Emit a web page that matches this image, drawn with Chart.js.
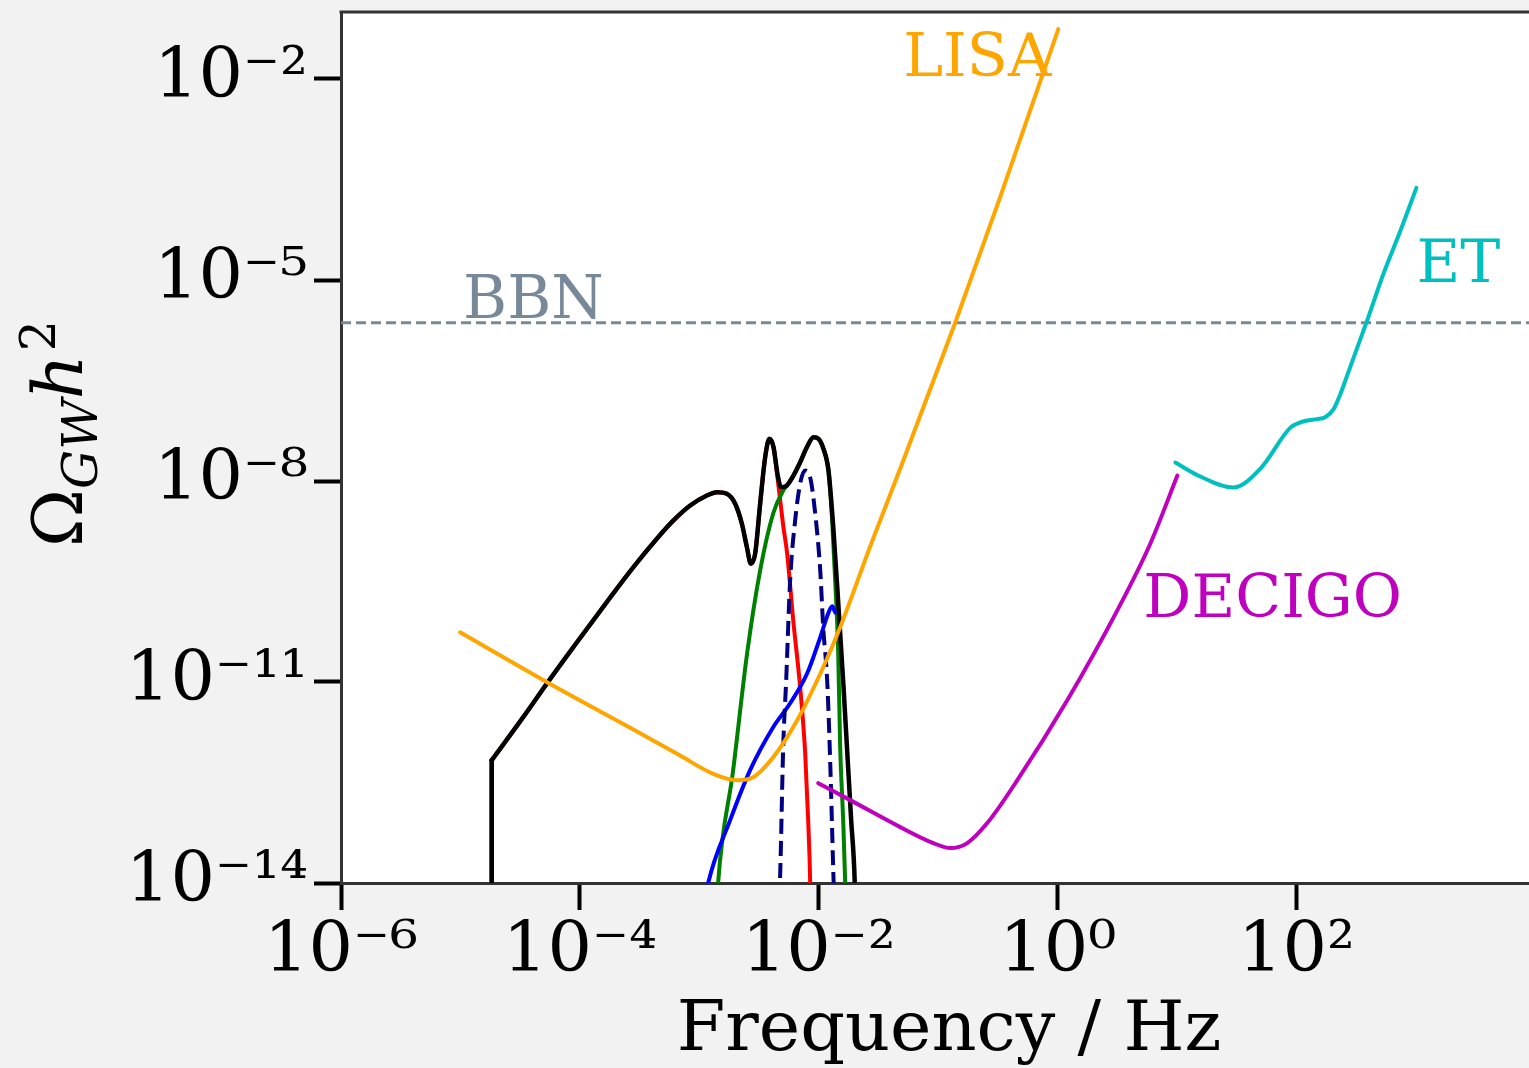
<!DOCTYPE html>
<html><head><meta charset="utf-8">
<script src="https://cdn.jsdelivr.net/npm/chart.js@4.4.1/dist/chart.umd.min.js"></script>
<style>
html,body{margin:0;padding:0;background:#f2f2f2;overflow:hidden;width:1529px;height:1068px;}
#wrap{position:absolute;left:0;top:0;width:1558px;height:1080px;}
canvas{display:block;}
</style></head><body>
<div id="wrap"><canvas id="c" width="1558" height="1080"></canvas></div>
<script>
// ---- data (log10 of frequency [Hz] and log10 of Omega_GW h^2) ----
const xTickExps = [-6, -4, -2, 0, 2];
const yTickExps = [-14, -11, -8, -5, -2];

// vertical cut-off edge of the total spectrum
const edgeLogF = [-4.738, -4.738];
const edgeLogO = [-15, -12.167];

const totalLogF = [-4.738,-4.473,-4.277,-4.054,-3.775,-3.552,-3.356,-3.217,-3.077,-2.937,-2.853,-2.770,-2.700,-2.644,-2.602,-2.569,-2.533,-2.491,-2.449,-2.413,-2.379,-2.346,-2.317,-2.267,-2.212,-2.156,-2.100,-2.044,-2.002,-1.961,-1.919,-1.877,-1.835,-1.793,-1.758,-1.729,-1.699,-1.687];
const totalLogO = [-12.167,-11.521,-11.024,-10.478,-9.807,-9.285,-8.862,-8.589,-8.366,-8.217,-8.167,-8.191,-8.340,-8.638,-8.987,-9.235,-9.086,-8.340,-7.645,-7.371,-7.496,-7.893,-8.093,-8.067,-7.918,-7.720,-7.496,-7.347,-7.371,-7.520,-7.844,-8.738,-9.882,-11.074,-12.167,-13.062,-14.0,-15.0];

const redLogF = [-4.738,-4.473,-4.277,-4.054,-3.775,-3.552,-3.356,-3.217,-3.077,-2.937,-2.853,-2.770,-2.700,-2.644,-2.602,-2.569,-2.533,-2.491,-2.449,-2.413,-2.379,-2.348,-2.323,-2.298,-2.265,-2.214,-2.156,-2.114,-2.089,-2.072,-2.064];
const redLogO = [-12.167,-11.521,-11.024,-10.478,-9.807,-9.285,-8.862,-8.589,-8.366,-8.217,-8.167,-8.191,-8.340,-8.638,-8.987,-9.235,-9.086,-8.340,-7.645,-7.371,-7.496,-7.918,-8.291,-8.664,-9.081,-10.080,-11.079,-12.063,-13.062,-14.0,-15.0];

const greenLogF = [-2.859,-2.843,-2.717,-2.600,-2.491,-2.382,-2.298,-2.267,-2.212,-2.156,-2.100,-2.044,-2.002,-1.961,-1.919,-1.888,-1.863,-1.838,-1.821,-1.796,-1.779,-1.771];
const greenLogO = [-14.55,-14.0,-12.316,-10.572,-9.335,-8.485,-8.142,-8.067,-7.918,-7.720,-7.496,-7.347,-7.371,-7.520,-7.844,-8.589,-9.483,-10.527,-11.973,-13.062,-14.0,-14.70];

const navyLogF = [-2.332,-2.323,-2.298,-2.273,-2.240,-2.198,-2.156,-2.114,-2.072,-2.030,-1.988,-1.963,-1.930,-1.905,-1.879,-1.871];
const navyLogO = [-14.25,-13.852,-11.973,-10.974,-9.483,-8.589,-8.038,-7.844,-7.948,-8.485,-9.335,-10.184,-10.974,-12.167,-13.807,-14.25];

const blueLogF = [-2.951,-2.926,-2.742,-2.575,-2.382,-2.240,-2.097,-1.988,-1.921,-1.888,-1.863];
const blueLogO = [-14.25,-14.0,-13.062,-12.316,-11.675,-11.317,-10.870,-10.333,-9.976,-9.871,-9.961];

const lisaLogF = [-5.003,-4.275,-3.496,-3.161,-2.884,-2.683,-2.549,-2.382,-2.181,-1.963,-1.821,-1.570,-1.318,-0.858,-0.481,0.005];
const lisaLogO = [-10.259,-11.004,-11.765,-12.098,-12.370,-12.465,-12.420,-12.122,-11.571,-10.780,-10.184,-8.977,-7.814,-5.637,-3.759,-1.255];

const decigoLogF = [-2.005,-1.737,-1.318,-1.042,-0.899,-0.757,-0.590,-0.338,0.080,0.499,0.776,1.002];
const decigoLogO = [-12.510,-12.763,-13.166,-13.404,-13.479,-13.404,-13.106,-12.465,-11.273,-9.931,-8.932,-7.918];

const etLogF = [0.985,1.194,1.471,1.697,1.948,2.015,2.088,2.170,2.239,2.311,2.367,2.423,2.478,2.590,2.727,2.869,3.003];
const etLogO = [-7.725,-7.933,-8.097,-7.814,-7.203,-7.136,-7.098,-7.076,-7.049,-6.924,-6.700,-6.428,-6.155,-5.608,-4.907,-4.266,-3.625];

const bbnLogF = [-6, 4.18];
const bbnLogO = [-5.637, -5.637];

const labelTexts = ['LISA', 'BBN', 'ET', 'DECIGO'];
const labelLogF = [-1.293, -4.978, 3.003, 0.717];
const labelLogO = [-1.955, -5.563, -5.026, -10.035];
const labelColors = ['#FFA500', '#778899', '#00BFBF', '#BF00BF'];

// ---- helpers ----
const SERIF = '"DejaVu Serif", "Liberation Serif", serif';
const sup = {'-':'\u207B','0':'\u2070','1':'\u00B9','2':'\u00B2','3':'\u00B3','4':'\u2074','5':'\u2075','6':'\u2076','7':'\u2077','8':'\u2078','9':'\u2079'};
function powLabel(v){ const e = Math.round(Math.log10(v)); return '10' + String(e).split('').map(c => sup[c]).join(''); }
function pts(lf, lo){ return lf.map((v, i) => ({x: Math.pow(10, v), y: Math.pow(10, lo[i])})); }
function ds(lf, lo, color, width, dash, smooth){
  const d = {data: pts(lf, lo), borderColor: color, backgroundColor: color, borderWidth: width,
          borderDash: dash || [], showLine: true, pointRadius: 0, tension: 0, fill: false,
          borderCapStyle: dash ? 'butt' : 'round', borderJoinStyle: 'round'};
  if (smooth) d.cubicInterpolationMode = 'monotone';
  return d;
}

const framePlugin = {
  id: 'frame',
  beforeDraw(chart){
    const {ctx, chartArea: a} = chart;
    ctx.save();
    ctx.fillStyle = '#f2f2f2';
    ctx.fillRect(0, 0, chart.width, chart.height);
    ctx.fillStyle = '#ffffff';
    ctx.fillRect(a.left, a.top, a.right - a.left, a.bottom - a.top);
    ctx.restore();
  },
  afterDatasetsDraw(chart){
    const {ctx, chartArea: a, scales} = chart;
    ctx.save();
    ctx.textAlign = 'left';
    ctx.textBaseline = 'alphabetic';
    ctx.font = '60px ' + SERIF;
    labelTexts.forEach((t, i) => {
      ctx.fillStyle = labelColors[i];
      ctx.fillText(t, scales.x.getPixelForValue(Math.pow(10, labelLogF[i])), scales.y.getPixelForValue(Math.pow(10, labelLogO[i])));
    });
    ctx.strokeStyle = '#333';
    ctx.lineWidth = 3;
    ctx.beginPath();
    ctx.moveTo(a.left - 1.5, a.top);
    ctx.lineTo(a.right + 1.5, a.top);
    ctx.stroke();
    ctx.restore();
  },
  afterDraw(chart){
    const ctx = chart.ctx;
    ctx.save();
    ctx.translate(82, 547);
    ctx.rotate(-Math.PI / 2);
    ctx.fillStyle = '#000';
    ctx.textAlign = 'left';
    ctx.textBaseline = 'alphabetic';
    let x = 0;
    ctx.font = '70px ' + SERIF; ctx.fillText('\u03A9', x, 0); x += ctx.measureText('\u03A9').width;
    ctx.font = 'italic 49px ' + SERIF; ctx.fillText('GW', x, 15); x += ctx.measureText('GW').width;
    ctx.font = 'italic 70px ' + SERIF; ctx.fillText('h', x, 0); x += ctx.measureText('h').width;
    ctx.font = '49px ' + SERIF; ctx.fillText('2', x + 3, -27);
    ctx.restore();
  }
};

new Chart(document.getElementById('c'), {
  type: 'scatter',
  data: {
    datasets: [
      ds(lisaLogF, lisaLogO, '#FFA500', 4, null, true),
      ds(decigoLogF, decigoLogO, '#BF00BF', 4, null, true),
      ds(etLogF, etLogO, '#00BFBF', 4, null, true),
      ds(bbnLogF, bbnLogO, '#778899', 3, [10, 5]),
      ds(navyLogF, navyLogO, '#000080', 4, [15, 7], true),
      ds(blueLogF, blueLogO, '#0000FF', 4, null, true),
      ds(edgeLogF, edgeLogO, '#000000', 4.5),
      ds(totalLogF, totalLogO, '#000000', 4.5, null, true),
      ds(greenLogF, greenLogO, '#008000', 4, null, true),
      ds(edgeLogF, edgeLogO, '#FF0000', 4.5),
      ds(redLogF, redLogO, '#FF0000', 4, null, true)
    ]
  },
  options: {
    responsive: false,
    animation: false,
    devicePixelRatio: 1,
    events: [],
    layout: {padding: {top: 12, right: 1, left: 0, bottom: 0}},
    plugins: {legend: {display: false}, tooltip: {enabled: false}, title: {display: false}},
    scales: {
      x: {
        type: 'logarithmic',
        position: 'bottom',
        min: 1e-6,
        max: Math.pow(10, 4.18),
        afterFit: s => { s.height = 197; s.paddingLeft = 0; s.paddingRight = 0; },
        afterBuildTicks: s => { s.ticks = xTickExps.map(e => ({value: Math.pow(10, e)})); },
        grid: {display: true, drawOnChartArea: false, drawTicks: true, tickLength: 27, tickWidth: 4, tickColor: '#000'},
        border: {display: true, color: '#333', width: 3},
        ticks: {color: '#000', font: {family: SERIF, size: 70}, padding: 1, maxRotation: 0, autoSkip: false,
                callback: v => powLabel(v)},
        title: {display: true, text: 'Frequency / Hz', color: '#000', font: {family: SERIF, size: 70}, padding: {top: 0, bottom: 6}}
      },
      y: {
        type: 'logarithmic',
        position: 'left',
        min: 1e-14,
        max: 1e-1,
        afterFit: s => { s.width = 341; s.paddingTop = 0; s.paddingBottom = 0; },
        afterBuildTicks: s => { s.ticks = yTickExps.map(e => ({value: Math.pow(10, e)})); },
        grid: {display: true, drawOnChartArea: false, drawTicks: true, tickLength: 27, tickWidth: 4, tickColor: '#000'},
        border: {display: true, color: '#333', width: 3},
        ticks: {color: '#000', font: {family: SERIF, size: 70}, padding: 6, autoSkip: false,
                callback: v => powLabel(v)}
      }
    }
  },
  plugins: [framePlugin]
});
</script></body></html>
